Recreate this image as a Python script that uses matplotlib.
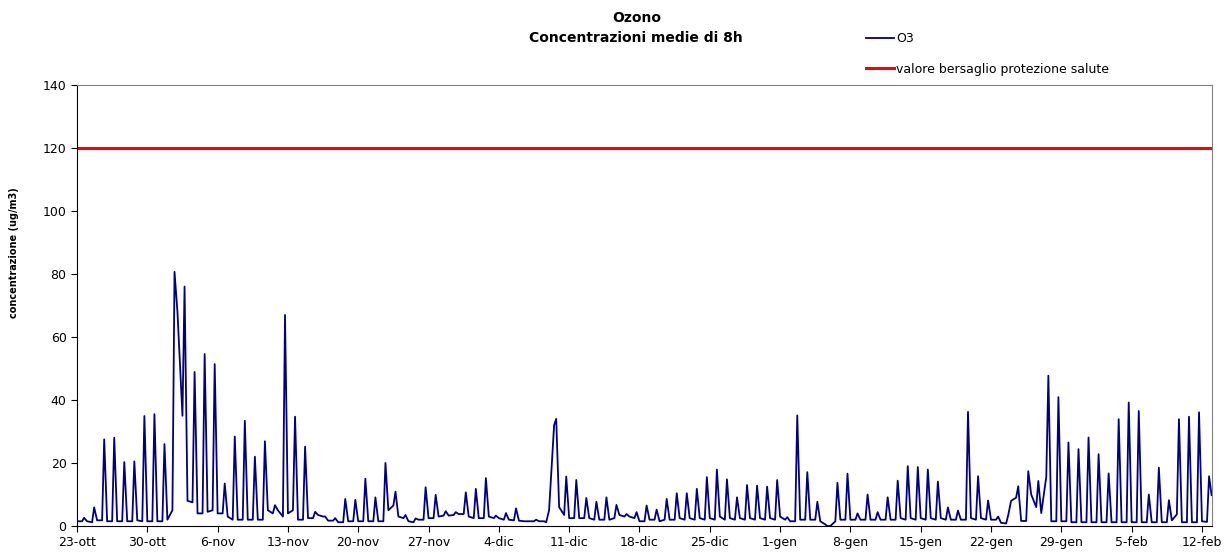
import numpy as np
import matplotlib
matplotlib.use("Agg")
import matplotlib.pyplot as plt

# O3 8h mean, three readings per day (00h, 12h, 17h)
start_day = "2006-10-23"
o3_night = [1.5, 1.5, 1.8, 1.5, 1.5, 1.5, 1.8, 1.5, 1.5, 2,
            68, 8, 4, 4.5, 4, 3, 2, 2, 2, 5,
            5, 4, 2, 2.5, 3.5, 1.7, 1.2, 1.5, 1.5, 1.5,
            1.5, 5, 3, 1.5, 2, 2.5, 3, 3.3, 3.8, 3,
            2.5, 3, 2.5, 2, 1.7, 1.5, 1.5, 5, 6, 2.5,
            2.5, 2.5, 2, 2, 3.5, 3, 1.5, 2, 1.5, 2,
            2.5, 2.5, 2.5, 2.5, 3, 2.5, 2.5, 2.5, 2.5, 2.5,
            3, 1.5, 2, 2, 1.5, 0, 2, 2, 2, 2,
            2, 2, 2.5, 2.5, 2.5, 2.5, 2.5, 2, 2, 2.5,
            2.5, 2, 1, 8, 1.6, 10, 4.1, 1.5, 1.5, 1.2,
            1.2, 1.2, 1.2, 1.2, 1.2, 1.2, 1.2, 1.2, 1.2, 1.8,
            1.2, 1.2, 1.5]
o3_noon = [1.5, 1.2, 1.8, 1.5, 1.5, 1.5, 1.5, 1.5, 1.5, 5,
           35, 7.5, 4, 5, 4, 2, 2, 2, 2, 4,
           3, 5, 2, 2.5, 3, 1.7, 1.2, 1.5, 1.5, 1.5,
           1.5, 6.5, 2.5, 1.2, 2, 2.5, 3.3, 3.5, 3.8, 2.5,
           2.5, 2.5, 2, 1.8, 1.5, 1.5, 1.5, 32, 3.5, 2.5,
           2.5, 2, 2, 2.5, 3, 2.5, 1.5, 2, 2, 2,
           2, 2, 2, 2, 2, 2, 2, 2, 2, 2,
           2, 1.5, 2, 2, 0.5, 1.5, 2, 2, 2, 2,
           2, 2, 2, 2, 2, 2, 2, 2, 2, 2,
           2, 2, 0.8, 9, 1.6, 6, 15.6, 1.5, 1.5, 1.2,
           1.2, 1.2, 1.2, 1.2, 1.2, 1.2, 1.2, 1.2, 1.2, 3.7,
           1.2, 1.2, 1.3]
o3_peak = [2.6, 5.9, 27.5, 28, 20.3, 20.5, 34.9, 35.5, 26, 80.7,
           76, 48.9, 54.6, 51.4, 13.5, 28.4, 33.4, 22, 26.9, 6.6,
           67, 34.7, 25.2, 4.5, 3, 2.5, 8.6, 8.3, 15, 9.1,
           20, 10.9, 3.5, 2.4, 12.3, 9.9, 4.7, 4.4, 10.7, 11.8,
           15.2, 3.3, 4.1, 5.6, 1.5, 2, 1.2, 34, 15.7, 14.6,
           8.9, 7.7, 9.1, 6.7, 3.8, 4.4, 6.5, 5.2, 8.6, 10.4,
           10.4, 11.8, 15.5, 17.9, 14.8, 9.1, 13, 12.8, 12.5, 14.6,
           2.8, 35.1, 17.1, 7.7, 0, 13.7, 16.6, 4, 10, 4.4,
           9.1, 14.4, 19, 18.7, 17.9, 14.1, 5.9, 4.9, 36.2, 15.8,
           8.1, 3, 3.4, 12.6, 17.4, 14.3, 47.7, 40.9, 26.5, 24.4,
           28.1, 22.8, 16.7, 33.9, 39.2, 36.5, 10, 18.5, 8.2, 33.9,
           34.7, 36.1, 15.8]
o3_last = 9.8
reading_hours = [0, 12, 17]
target_value = 120

tick_labels = ["23-ott", "30-ott", "6-nov", "13-nov", "20-nov", "27-nov",
               "4-dic", "11-dic", "18-dic", "25-dic", "1-gen", "8-gen",
               "15-gen", "22-gen", "29-gen", "5-feb", "12-feb"]

# build the time series
t0 = np.datetime64(start_day + "T00:00")
n_days = len(o3_peak)
days = np.arange(n_days) * 24
hours = (days[:, None] + np.array(reading_hours)[None, :]).ravel()
values = np.column_stack([o3_night, o3_noon, o3_peak]).ravel()
hours = np.append(hours, days[-1] + 23)
values = np.append(values, o3_last)
times = t0 + hours.astype("timedelta64[h]")

fig = plt.figure(figsize=(12.26, 5.56), dpi=100)
ax = fig.add_axes([77 / 1226, 30 / 556, 1135 / 1226, 441 / 556])

ax.plot(times, values, color="#000080", lw=1.3, label="O3")
ax.axhline(target_value, color="#ff0000", lw=2.2, label="valore bersaglio protezione salute")

ax.set_ylim(0, 140)
ax.set_yticks(range(0, 141, 20))
ax.set_xlim(t0, t0 + np.timedelta64(n_days, "D"))
tick_pos = t0 + (np.arange(len(tick_labels)) * 7).astype("timedelta64[D]")
ax.set_xticks(tick_pos)
ax.set_xticklabels(tick_labels)
ax.tick_params(labelsize=9, length=4, direction="out")

for side in ["top", "right"]:
    ax.spines[side].set_color("#808080")
for side in ["left", "bottom"]:
    ax.spines[side].set_color("black")

fig.text(14 / 1226, 0.5 + 25 / 556, "concentrazione (ug/m3)", rotation=90,
         fontsize=7, fontweight="bold", ha="center", va="center")
fig.text(0.519, 1 - 18 / 556, "Ozono", fontsize=10, fontweight="bold",
         ha="center", va="center")
fig.text(0.519, 1 - 38 / 556, "Concentrazioni medie di 8h", fontsize=10,
         fontweight="bold", ha="center", va="center")

fig.legend(loc="upper left", bbox_to_anchor=(860 / 1226, 1 - 26 / 556),
           frameon=False, fontsize=9, handlelength=2.2, handletextpad=0.2,
           labelspacing=1.4, borderpad=0)

fig.savefig("out.png", dpi=100)
